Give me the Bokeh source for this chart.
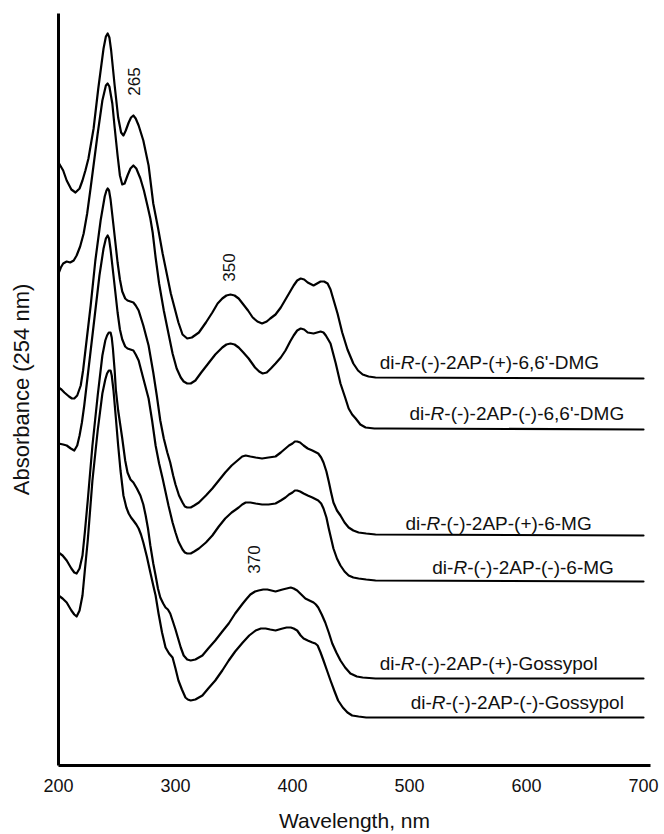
import math
from bokeh.plotting import figure
from bokeh.models import Range1d, FixedTicker
from bokeh.core.properties import value
from bokeh.embed import file_html
from bokeh.resources import INLINE

# ---------------- data: (wavelength nm, stacked absorbance a.u.) ----------------
dmg_plus = [(200, 6.03), (204, 5.95), (207, 5.85), (211, 5.76), (214.5, 5.73), (218, 5.77), (220.5, 5.85),
            (223, 5.95), (225.6, 6.07), (230, 6.37), (234, 6.77), (238.5, 7.17), (240.5, 7.29), (242, 7.32),
            (243.5, 7.28), (245, 7.15), (248, 6.80), (251, 6.48), (253.5, 6.33), (255.5, 6.30), (257.5, 6.35),
            (260, 6.43), (262, 6.48), (264, 6.50), (266, 6.47), (268.5, 6.40), (272.5, 6.25), (277, 6.00),
            (281, 5.62), (285, 5.38), (289, 5.12), (296, 4.72), (302.5, 4.43), (306, 4.31), (310, 4.27),
            (314, 4.28), (320, 4.33), (326, 4.43), (331.5, 4.53), (336, 4.62), (340, 4.67), (343.5, 4.70),
            (347, 4.71), (350.5, 4.70), (354, 4.67), (358, 4.61), (362, 4.55), (366, 4.48), (370, 4.44),
            (374, 4.42), (378, 4.44), (381, 4.47), (385.5, 4.51), (390, 4.58), (394, 4.66), (398, 4.74),
            (401, 4.80), (404, 4.85), (407, 4.87), (410, 4.86), (413, 4.83), (418, 4.80), (421, 4.82),
            (424, 4.84), (427, 4.84), (430, 4.82), (432.5, 4.76), (434.5, 4.68), (438.5, 4.52), (442.5, 4.33),
            (447, 4.16), (452, 4.02), (456, 3.95), (460, 3.91), (465, 3.89), (471, 3.88), (700, 3.87)]

dmg_minus = [(200, 4.92), (202, 4.98), (204, 5.02), (207, 5.04), (210, 5.03), (213, 5.05), (215.5, 5.10),
             (218.5, 5.19), (221.5, 5.32), (224.5, 5.52), (227.5, 5.78), (230.5, 6.05), (233.5, 6.32),
             (237.5, 6.65), (240.5, 6.80), (242, 6.82), (243.5, 6.79), (246, 6.62), (248, 6.38), (250.5, 6.10),
             (252.5, 5.90), (254.5, 5.81), (256.5, 5.82), (259, 5.90), (261.5, 5.97), (264, 6.00), (266.5, 5.97),
             (270, 5.87), (273, 5.75), (276, 5.60), (278.5, 5.47), (280.5, 5.33), (283, 5.08), (286, 4.82),
             (290, 4.55), (294, 4.32), (297.5, 4.12), (301, 3.97), (304.5, 3.88), (307, 3.84), (310, 3.82),
             (313, 3.82), (317, 3.85), (322, 3.93), (328, 4.02), (334, 4.11), (340, 4.18), (343.5, 4.21),
             (347, 4.22), (350.5, 4.21), (354, 4.18), (358, 4.13), (362.5, 4.07), (368, 3.98), (371.5, 3.94),
             (374.5, 3.92), (378, 3.93), (381.5, 3.97), (385.5, 4.02), (390, 4.08), (394, 4.15), (398, 4.24),
             (401, 4.30), (404, 4.35), (407, 4.37), (410, 4.36), (413, 4.33), (418, 4.32), (421, 4.33),
             (424, 4.34), (426.5, 4.33), (428.5, 4.30), (431, 4.25), (432.5, 4.22), (437, 4.02), (441, 3.82),
             (445, 3.68), (448, 3.57), (451, 3.51), (454, 3.47), (458, 3.41), (462.5, 3.38), (470, 3.37),
             (479.5, 3.37), (700, 3.36)]

mg_plus = [(200, 3.78), (202.5, 3.76), (205, 3.73), (209, 3.69), (211.5, 3.67), (213.5, 3.67), (216, 3.70),
           (219, 3.80), (221, 3.95), (223, 4.15), (227.5, 4.60), (231.5, 5.05), (236, 5.45), (239.5, 5.69),
           (241, 5.75), (242, 5.77), (243.2, 5.75), (244.5, 5.66), (247, 5.40), (250.5, 5.03), (252.5, 4.86),
           (254.5, 4.74), (257, 4.67), (259, 4.65), (264, 4.63), (266, 4.60), (268.5, 4.55), (272.5, 4.40),
           (277, 4.20), (281, 3.93), (284, 3.70), (287, 3.45), (290, 3.27), (293, 3.13), (295.5, 3.03),
           (298, 2.90), (300, 2.81), (303, 2.70), (306, 2.63), (308, 2.59), (310, 2.58), (313, 2.58),
           (316, 2.60), (320, 2.63), (326, 2.70), (331.5, 2.77), (337, 2.85), (342.5, 2.93), (348, 3.00),
           (354, 3.06), (357, 3.09), (360, 3.10), (364, 3.09), (368.5, 3.08), (374, 3.07), (379.5, 3.08),
           (385.5, 3.09), (390, 3.13), (394, 3.17), (397, 3.20), (400, 3.22), (402, 3.24), (404, 3.24),
           (406.5, 3.23), (409.5, 3.20), (413, 3.17), (417, 3.15), (422, 3.12), (424.5, 3.08), (426.5, 3.03),
           (429, 2.94), (431, 2.84), (433, 2.73), (435, 2.63), (438, 2.55), (441, 2.50), (444.5, 2.43),
           (448, 2.38), (452, 2.35), (456.5, 2.33), (463, 2.32), (471, 2.31), (700, 2.30)]

mg_minus = [(200, 3.22), (204, 3.21), (207, 3.20), (210.5, 3.17), (213.5, 3.15), (216, 3.20), (218, 3.30),
            (220, 3.43), (222, 3.60), (226.5, 4.05), (231, 4.50), (235, 4.90), (238.5, 5.17), (240.5, 5.27),
            (242, 5.30), (243.2, 5.27), (244.5, 5.16), (247, 4.90), (250.5, 4.53), (252.5, 4.36), (254.5, 4.26),
            (257, 4.19), (259, 4.17), (264, 4.15), (266, 4.11), (268.5, 4.05), (272.5, 3.87), (277, 3.67),
            (280, 3.45), (283, 3.20), (286, 3.02), (289, 2.87), (294, 2.60), (297.5, 2.43), (300, 2.33),
            (302.5, 2.24), (306, 2.16), (308, 2.13), (310, 2.12), (313, 2.12), (316, 2.14), (320, 2.17),
            (326, 2.23), (331.5, 2.30), (337, 2.39), (342.5, 2.47), (348, 2.53), (354, 2.58), (357, 2.61),
            (360, 2.63), (364, 2.63), (368.5, 2.62), (374, 2.61), (379.5, 2.61), (385.5, 2.62), (390, 2.65),
            (394, 2.68), (397, 2.71), (400, 2.73), (402, 2.75), (404, 2.75), (406.5, 2.74), (409.5, 2.72),
            (413, 2.70), (417, 2.68), (422, 2.65), (424.5, 2.62), (426.5, 2.57), (429, 2.48), (431, 2.37),
            (433, 2.27), (435, 2.17), (438, 2.07), (441, 2.00), (444.5, 1.94), (448, 1.90), (452, 1.88),
            (456.5, 1.87), (463, 1.86), (471, 1.85), (700, 1.84)]

gos_plus = [(200, 2.13), (203.5, 2.10), (207, 2.05), (211, 1.97), (213.5, 1.93), (215.5, 1.92), (218, 1.97),
            (220.5, 2.10), (222.5, 2.33), (225, 2.65), (229, 3.20), (233.5, 3.70), (237.5, 4.10), (240, 4.25),
            (241.5, 4.30), (243, 4.33), (244.5, 4.33), (245.5, 4.28), (246.5, 4.17), (248, 3.95), (249, 3.76),
            (251, 3.55), (254.5, 3.27), (257, 3.05), (259, 2.93), (261.5, 2.86), (264, 2.83), (267, 2.77),
            (270, 2.70), (272.5, 2.61), (274.5, 2.50), (276.5, 2.37), (278.5, 2.20), (281, 2.02), (283, 1.90),
            (285, 1.77), (287, 1.68), (289.5, 1.62), (291.5, 1.58), (293.5, 1.56), (295.5, 1.52), (297.5, 1.45),
            (300, 1.36), (302, 1.28), (304.5, 1.18), (307, 1.10), (310, 1.06), (313, 1.05), (317, 1.06),
            (323, 1.10), (328, 1.17), (334, 1.25), (340, 1.34), (345.5, 1.42), (351, 1.52), (357.5, 1.62),
            (361, 1.67), (364, 1.71), (368, 1.74), (371, 1.75), (375, 1.76), (378.5, 1.76), (382, 1.75),
            (385.5, 1.74), (388.5, 1.75), (391.5, 1.76), (395, 1.77), (398.5, 1.78), (401, 1.77), (404, 1.75),
            (407.5, 1.71), (411, 1.67), (414.5, 1.65), (418, 1.63), (420, 1.61), (422, 1.58), (425, 1.51),
            (428, 1.43), (431, 1.33), (434, 1.22), (437.5, 1.13), (441, 1.05), (445, 0.98), (449.5, 0.92),
            (455, 0.89), (460, 0.88), (471, 0.87), (700, 0.87)]

gos_minus = [(200, 1.70), (203.5, 1.67), (207, 1.63), (211, 1.55), (213.5, 1.51), (215.5, 1.49), (218, 1.55),
             (220.5, 1.70), (222.5, 1.95), (225, 2.25), (229, 2.85), (233.5, 3.35), (237.5, 3.72), (240, 3.86),
             (241.5, 3.92), (243, 3.95), (244.5, 3.95), (245.5, 3.90), (247, 3.75), (249, 3.48), (251, 3.20),
             (253, 2.95), (255.5, 2.70), (258, 2.58), (260, 2.52), (262, 2.48), (264, 2.45), (266.5, 2.41),
             (268.5, 2.37), (270.5, 2.31), (272.5, 2.23), (275.5, 2.09), (278.5, 1.93), (281, 1.80), (283, 1.70),
             (285.5, 1.52), (288.5, 1.33), (291.5, 1.18), (294.5, 1.12), (297.5, 1.08), (300, 0.97),
             (302.5, 0.85), (305.5, 0.76), (308.5, 0.68), (310.5, 0.66), (313, 0.65), (317, 0.66), (323, 0.70),
             (328, 0.77), (334, 0.85), (340, 0.95), (345.5, 1.05), (351, 1.14), (357.5, 1.23), (363, 1.30),
             (368.5, 1.35), (373, 1.37), (377, 1.37), (381, 1.36), (385.5, 1.35), (388.5, 1.36), (391.5, 1.37),
             (395, 1.38), (398.5, 1.38), (401, 1.37), (404, 1.35), (407, 1.30), (409.5, 1.27), (413, 1.25),
             (417, 1.23), (419.5, 1.22), (421.5, 1.20), (424, 1.13), (426.5, 1.05), (429.5, 0.95), (432.5, 0.85),
             (436, 0.74), (439, 0.65), (443, 0.58), (447, 0.53), (451, 0.50), (456.5, 0.49), (463, 0.48),
             (471, 0.48), (700, 0.48)]

series_suffix = ["-(-)-2AP-(+)-6,6'-DMG", "-(-)-2AP-(-)-6,6'-DMG", "-(-)-2AP-(+)-6-MG",
                 "-(-)-2AP-(-)-6-MG", "-(-)-2AP-(+)-Gossypol", "-(-)-2AP-(-)-Gossypol"]
peak_labels = ["265", "350", "370"]
x_ticks = [200, 300, 400, 500, 600, 700]

# ---------------- layout (positions / styles) ----------------
label_x = [474.5, 500, 496.5, 519.5, 474.5, 501]
label_y = [4.03, 3.52, 2.42, 1.98, 1.02, 0.63]
peak_x = [264.5, 345.6, 367]
peak_y = [6.84, 4.98, 2.06]

FONT = "Liberation Sans"
LBL_SIZE = 19
INK = "#111111"

p = figure(width=664, height=834, x_range=Range1d(200, 706), y_range=Range1d(0, 7.52),
           output_backend="svg", toolbar_location=None,
           min_border_left=58, min_border_right=14, min_border_top=13, min_border_bottom=69)
p.outline_line_color = None
p.xgrid.visible = False
p.ygrid.visible = False
p.background_fill_color = "white"
p.border_fill_color = "white"

for s in [dmg_plus, dmg_minus, mg_plus, mg_minus, gos_plus, gos_minus]:
    wl = [pt[0] for pt in s]
    ab = [pt[1] for pt in s]
    p.line(wl, ab, line_color="black", line_width=2.2, line_join="round", line_cap="round")

# right-side labels: "di-" + italic "R" + rest
w_di = 1.111 * LBL_SIZE
w_R = 0.722 * LBL_SIZE
common = dict(text_font=value(FONT), text_font_size=f"{LBL_SIZE}px", text_color=INK,
              text_baseline="middle", text_align="left")
p.text(x=label_x, y=label_y, text=["di-"] * 6, **common)
p.text(x=label_x, y=label_y, text=["R"] * 6, x_offset=w_di, text_font_style="italic", **common)
p.text(x=label_x, y=label_y, text=series_suffix, x_offset=w_di + w_R, **common)

# peak annotations
p.text(x=peak_x, y=peak_y, text=peak_labels, angle=math.pi / 2,
       text_font=value(FONT), text_font_size="17px", text_color=INK,
       text_align="center", text_baseline="middle")

# axes
xa = p.xaxis[0]
xa.ticker = FixedTicker(ticks=x_ticks)
xa.axis_line_width = 3
xa.axis_line_color = "black"
xa.major_tick_line_color = None
xa.minor_tick_line_color = None
xa.major_tick_out = 0
xa.major_tick_in = 0
xa.major_label_standoff = 13
xa.major_label_text_font = FONT
xa.major_label_text_font_size = "18px"
xa.major_label_text_color = INK
xa.axis_label = "Wavelength, nm"
xa.axis_label_text_font = FONT
xa.axis_label_text_font_size = "21px"
xa.axis_label_text_font_style = "normal"
xa.axis_label_text_color = INK
xa.axis_label_standoff = 14

ya = p.yaxis[0]
ya.ticker = FixedTicker(ticks=[])
ya.axis_line_width = 3
ya.axis_line_color = "black"
ya.major_tick_line_color = None
ya.minor_tick_line_color = None
ya.major_tick_out = 0
ya.major_tick_in = 0
ya.major_label_standoff = 0
ya.axis_label = "Absorbance (254 nm)"
ya.axis_label_text_font = FONT
ya.axis_label_text_font_size = "22px"
ya.axis_label_text_font_style = "normal"
ya.axis_label_text_color = INK
ya.axis_label_standoff = 25

open("out.html", "w").write(file_html(p, INLINE))
